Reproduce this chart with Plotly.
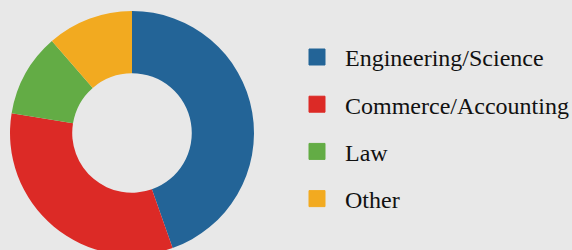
import plotly.graph_objects as go

categories = ["Engineering/Science", "Commerce/Accounting", "Law", "Other"]
values = [44.6, 33.0, 11.0, 11.4]
colors = ["#236497", "#dc2a26", "#63ac45", "#f2aa20"]

BG = "#e8e8e8"
W = 600

fig = go.Figure()
fig.add_trace(go.Pie(
    labels=categories, values=values, hole=0.49, sort=False,
    direction="clockwise", rotation=0,
    marker=dict(colors=colors, line=dict(width=0)),
    textinfo="none", hoverinfo="label+percent", showlegend=False,
    domain=dict(x=[0, 264 / W], y=[0, 1]),
))

for i, (c, col) in enumerate(zip(categories, colors)):
    fig.add_trace(go.Scatter(
        x=[None], y=[None], mode="markers", name=c, legendgroup=f"g{i}",
        marker=dict(symbol="square", size=16, color=col, line=dict(width=1, color=col)),
        showlegend=True,
    ))

fig.update_layout(
    width=W, height=266,
    margin=dict(l=0, r=0, t=11, b=11),
    paper_bgcolor=BG, plot_bgcolor=BG,
    xaxis=dict(visible=False), yaxis=dict(visible=False),
    legend=dict(
        x=289 / W, xanchor="left", y=0.902, yanchor="top",
        font=dict(family="Liberation Serif", size=24, color="#111111"),
        itemwidth=46, tracegroupgap=13, bgcolor="rgba(0,0,0,0)",
    ),
)

fig.write_html(
    "out.html",
    config={"displayModeBar": False},
    post_script="document.body.style.margin='0';document.body.style.overflow='hidden';document.body.style.background='#e8e8e8';",
)
